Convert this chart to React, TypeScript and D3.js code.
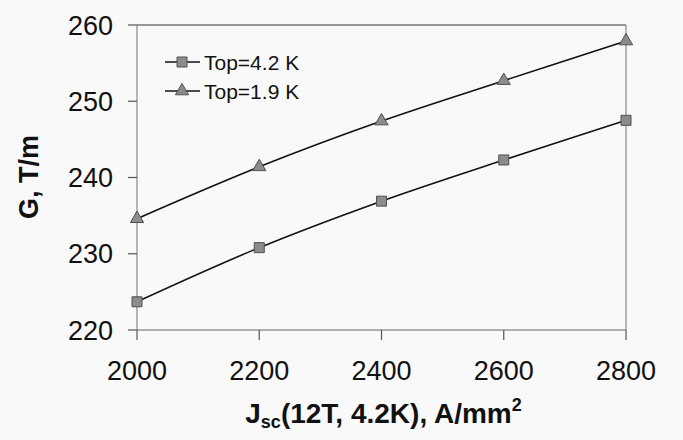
import React, { useEffect, useRef } from "react";
import { select, scaleLinear, line, curveCatmullRom, symbol, symbolSquare, symbolTriangle } from "d3";

const jsc = [2000, 2200, 2400, 2600, 2800];
const g42 = [223.7, 230.8, 236.9, 242.3, 247.5];
const g19 = [234.6, 241.4, 247.4, 252.7, 257.9];
const yTicks = [220, 230, 240, 250, 260];
const xTicks = [2000, 2200, 2400, 2600, 2800];
const seriesNames = ["Top=4.2 K", "Top=1.9 K"];

const W = 683;
const H = 440;
const FONT = "'Liberation Sans', Arial, sans-serif";

const App = () => {
  const svgRef = useRef(null);

  useEffect(() => {
    const svg = select(svgRef.current);
    svg.selectAll("*").remove();

    const left = 137;
    const right = 626;
    const top = 25;
    const bottom = 330;

    const x = scaleLinear().domain([2000, 2800]).range([left, right]);
    const y = scaleLinear().domain([220, 260]).range([bottom, top]);

    svg.append("rect").attr("width", W).attr("height", H).attr("fill", "#f9f9f9");

    // plot frame
    svg.append("line").attr("x1", left).attr("x2", right).attr("y1", top).attr("y2", top)
      .attr("stroke", "#333").attr("stroke-width", 1.2);
    svg.append("line").attr("x1", right).attr("x2", right).attr("y1", top).attr("y2", bottom)
      .attr("stroke", "#888").attr("stroke-width", 1.2);
    svg.append("line").attr("x1", left).attr("x2", left).attr("y1", top).attr("y2", bottom)
      .attr("stroke", "#888").attr("stroke-width", 1.2);
    svg.append("line").attr("x1", left).attr("x2", right).attr("y1", bottom).attr("y2", bottom)
      .attr("stroke", "#666").attr("stroke-width", 1.2);

    // y ticks
    yTicks.forEach((t) => {
      svg.append("line").attr("x1", left - 9).attr("x2", left).attr("y1", y(t)).attr("y2", y(t))
        .attr("stroke", "#555").attr("stroke-width", 1.2);
      svg.append("text").attr("x", left - 24).attr("y", y(t)).attr("dy", "0.36em")
        .attr("text-anchor", "end").attr("font-family", FONT).attr("font-size", 27)
        .attr("fill", "#111").text(t);
    });

    // x ticks
    xTicks.forEach((t) => {
      svg.append("line").attr("x1", x(t)).attr("x2", x(t)).attr("y1", bottom).attr("y2", bottom + 10)
        .attr("stroke", "#555").attr("stroke-width", 1.2);
      svg.append("text").attr("x", x(t)).attr("y", 380)
        .attr("text-anchor", "middle").attr("font-family", FONT).attr("font-size", 27)
        .attr("fill", "#111").text(t);
    });

    // axis titles
    svg.append("text")
      .attr("transform", `translate(38,177) rotate(-90)`)
      .attr("text-anchor", "middle").attr("font-family", FONT).attr("font-size", 27)
      .attr("font-weight", "bold").attr("fill", "#111").text("G, T/m");

    const xt = svg.append("text").attr("x", (left + right) / 2 + 2).attr("y", 423)
      .attr("text-anchor", "middle").attr("font-family", FONT).attr("font-size", 28)
      .attr("font-weight", "bold").attr("fill", "#111");
    xt.append("tspan").text("J");
    xt.append("tspan").attr("font-size", 18).attr("dy", 5).text("sc");
    xt.append("tspan").attr("dy", -5).text("(12T, 4.2K), A/mm");
    xt.append("tspan").attr("font-size", 18).attr("dy", -12).text("2");

    const lineGen = line<number>()
      .x((_, i) => x(jsc[i]))
      .y((d) => y(d))
      .curve(curveCatmullRom.alpha(0.5));

    const series = [
      { vals: g42, sym: symbolSquare, size: 100 },
      { vals: g19, sym: symbolTriangle, size: 75 },
    ];

    series.forEach((s) => {
      svg.append("path").attr("d", lineGen(s.vals)).attr("fill", "none")
        .attr("stroke", "#111").attr("stroke-width", 1.6);
      s.vals.forEach((v, i) => {
        svg.append("path")
          .attr("d", symbol().type(s.sym).size(s.size)())
          .attr("transform", `translate(${x(jsc[i])},${y(v)})`)
          .attr("fill", "#8c8c8c").attr("stroke", "#505050").attr("stroke-width", 1);
      });
    });

    // legend
    const legY = [62, 91];
    series.forEach((s, i) => {
      svg.append("line").attr("x1", 165).attr("x2", 200).attr("y1", legY[i]).attr("y2", legY[i])
        .attr("stroke", "#111").attr("stroke-width", 1.6);
      svg.append("path")
        .attr("d", symbol().type(s.sym).size(s.size)())
        .attr("transform", `translate(182,${legY[i]})`)
        .attr("fill", "#8c8c8c").attr("stroke", "#505050").attr("stroke-width", 1);
      svg.append("text").attr("x", 204).attr("y", legY[i]).attr("dy", "0.36em")
        .attr("font-family", FONT).attr("font-size", 21).attr("fill", "#111")
        .text(seriesNames[i]);
    });
  }, []);

  return (
    <svg ref={svgRef} width={W} height={H}
      style={{ position: "fixed", left: 0, top: 0, display: "block" }} />
  );
};

export default App;
